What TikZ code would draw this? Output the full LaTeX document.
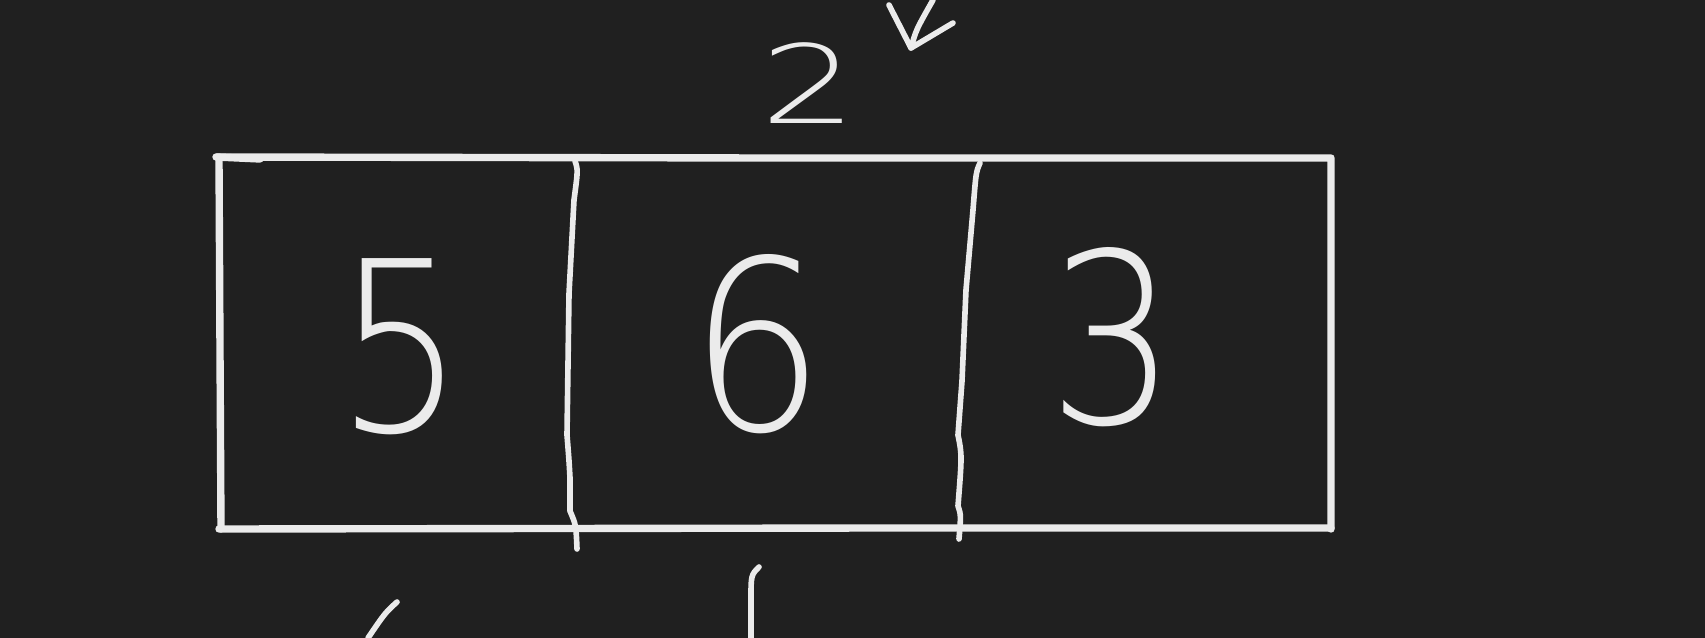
\documentclass[tikz,border=0pt]{standalone}
\usepackage{fontspec}
\IfFontExistsTF{DejaVu Sans ExtraLight}
  {\newfontfamily\handfont{DejaVu Sans ExtraLight}}
  {\newfontfamily\handfont{DejaVu Sans}}
\definecolor{board}{RGB}{32,32,32}
\definecolor{chalk}{RGB}{235,235,235}
\tikzset{
  pen/.style={draw=chalk, line width=3.2pt, line cap=round, line join=round},
  boxpen/.style={pen, line width=4.2pt},
  digit/.style={text=chalk, inner sep=0pt, font=\handfont\fontsize{135}{135}\selectfont},
  smalldigit/.style={digit, font=\handfont\fontsize{62}{62}\selectfont}
}

\begin{document}
\begin{tikzpicture}[x=0.02cm, y=-0.02cm]
\fill[board] (0,0) rectangle (1705,638);
\useasboundingbox (0,0) rectangle (1705,638);

% outer box
\draw[boxpen] (217,157) -- (770,158) -- (1331,158) -- (1331,529);
\draw[boxpen] (219,158) -- (220,350) -- (221,529);
\draw[boxpen] (219,529) -- (890,528) -- (1331,528);
\draw[boxpen] (216,157) -- (260,159);

% dividers
\draw[pen] (575,161) .. controls (578,170) .. (574,200) -- (569,294) -- (567,435)
  .. controls (569,460) .. (570,478) -- (570,511) .. controls (576,525) .. (577,549);
\draw[pen] (980,163) .. controls (976,172) .. (973,210) -- (966,290) -- (962,381)
  -- (958,435) .. controls (962,455) .. (958,506) .. controls (961,515) .. (959,539);

% cells
\node[digit, xscale=0.85] (five)  at (401,347) {5};
\node[digit, xscale=0.9] (six)   at (757,344) {6};
\node[digit, xscale=0.85] (three) at (1113,337) {3};

% top
\node[smalldigit, xscale=1.4] (two) at (809,83) {2};
\coordinate (tip) at (911,48);
\draw[pen] (889,5) -- (tip) -- (953,23);
\draw[pen] (tip) .. controls (916,30) .. (933,0);

% bottom
\draw[pen] (397,602) .. controls (385,613) .. (368,638);
\draw[pen] (759,567) .. controls (751,575) .. (751,600) -- (751,638);
\end{tikzpicture}
\end{document}
